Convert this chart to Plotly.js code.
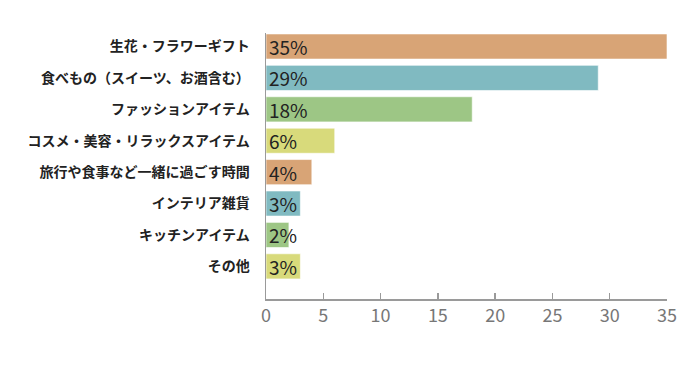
<!DOCTYPE html>
<html>
<head>
<meta charset="utf-8">
<script src="https://cdn.plot.ly/plotly-3.0.1.min.js"></script>
<style>html,body{margin:0;padding:0;background:#fff;}#chart{width:700px;height:366px;}</style>
</head>
<body>
<div id="chart"></div>
<script>
const categories = ["生花・フラワーギフト", "食べもの（スイーツ、お酒含む）", "ファッションアイテム", "コスメ・美容・リラックスアイテム", "旅行や食事など一緒に過ごす時間", "インテリア雑貨", "キッチンアイテム", "その他"];
const values = [35, 29, 18, 6, 4, 3, 2, 3];
const valueLabels = ["35%", "29%", "18%", "6%", "4%", "3%", "2%", "3%"];
const barColors = ["#D8A476", "#80BAC1", "#9DC685", "#D8DA7B", "#D8A476", "#80BAC1", "#9DC685", "#D8DA7B"];
const xTicks = [0, 5, 10, 15, 20, 25, 30, 35];

const trace = {
  type: "bar",
  orientation: "h",
  y: categories,
  x: values,
  text: valueLabels,
  textposition: "inside",
  insidetextanchor: "start",
  constraintext: "none",
  insidetextfont: {family: "Noto Sans CJK JP, sans-serif", size: 19, color: "#222"},
  textangle: 0,
  cliponaxis: false,
  marker: {color: barColors, line: {color: "rgba(255,255,255,0.6)", width: 1}},
  width: 0.8,
  hoverinfo: "none"
};

const layout = {
  width: 700, height: 366,
  margin: {l: 266, r: 33, t: 33, b: 67},
  paper_bgcolor: "#fff", plot_bgcolor: "#fff",
  showlegend: false,
  xaxis: {
    range: [0, 35],
    tickvals: xTicks,
    ticktext: xTicks.map(String),
    showgrid: false, zeroline: false,
    showline: true, linecolor: "#9a9a9a", linewidth: 1.5,
    ticks: "inside", ticklen: 6, tickcolor: "#9a9a9a", tickwidth: 1.5,
    tickfont: {family: "Noto Sans CJK JP, sans-serif", size: 18, color: "#777"}
  },
  yaxis: {
    type: "category",
    range: [8.04, -0.43],
    showgrid: false, zeroline: false,
    showline: true, linecolor: "#9a9a9a", linewidth: 1.5,
    ticks: "",
    ticklabelstandoff: 12,
    tickfont: {family: "Noto Sans CJK JP, sans-serif", size: 14, color: "#222", weight: "bold"}
  }
};

Plotly.newPlot("chart", [trace], layout, {displayModeBar: false, staticPlot: true});
</script>
</body>
</html>
